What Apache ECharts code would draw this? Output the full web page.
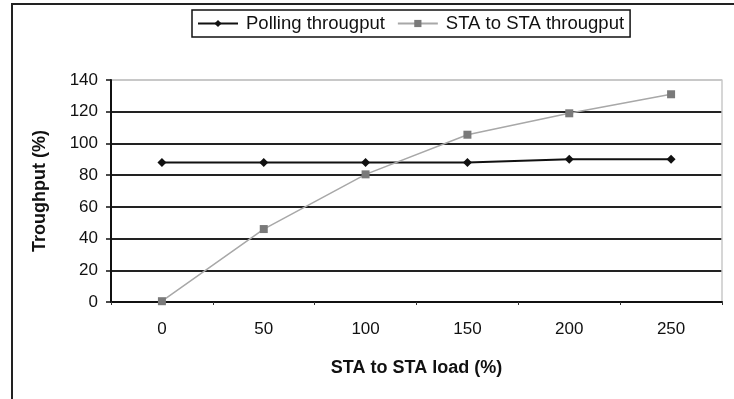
<!DOCTYPE html>
<html>
<head>
<meta charset="utf-8">
<script src="https://cdn.jsdelivr.net/npm/echarts@6/dist/echarts.min.js"></script>
<style>html,body{margin:0;padding:0;background:#fff;}#c{width:734px;height:399px;}</style>
</head>
<body>
<div id="c"></div>
<script>
var categories = ['0', '50', '100', '150', '200', '250'];
var pollingThroughput = [88, 88, 88, 88, 90, 90];
var staThroughput = [0.5, 46, 80.5, 105.5, 119, 131];
var yTicks = { min: 0, max: 140, interval: 20 };

var chart = echarts.init(document.getElementById('c'), null, { renderer: 'canvas' });
var font = 'Liberation Sans, Arial, sans-serif';
chart.setOption({
  animation: false,
  backgroundColor: '#fff',
  graphic: [{
    type: 'rect', z: 100, silent: true,
    shape: { x: 12, y: 4, width: 760, height: 440 },
    style: { fill: 'none', stroke: '#222', lineWidth: 2 }
  }],
  legend: {
    top: 10, left: 192,
    padding: [4, 6, 4, 5],
    borderColor: '#111', borderWidth: 1.5,
    itemWidth: 40, itemHeight: 9, itemGap: 12,
    textStyle: { fontFamily: font, fontSize: 18.5, color: '#111', padding: [0, 0, 0, 3] },
    data: ['Polling througput', 'STA to STA througput']
  },
  grid: { left: 111, right: 12, top: 80, bottom: 97 },
  xAxis: {
    type: 'category',
    data: categories,
    boundaryGap: true,
    name: 'STA to STA load (%)',
    nameLocation: 'middle',
    nameGap: 57,
    nameTextStyle: { fontFamily: font, fontSize: 18, fontWeight: 'bold', color: '#111' },
    axisLine: { lineStyle: { color: '#111', width: 2 } },
    axisTick: { show: true, length: 3, lineStyle: { color: '#333' } },
    axisLabel: { fontFamily: font, fontSize: 17, color: '#111', margin: 19 }
  },
  yAxis: [{
    type: 'value',
    min: yTicks.min, max: yTicks.max, interval: yTicks.interval,
    name: 'Troughput (%)',
    nameLocation: 'middle',
    nameGap: 62,
    nameTextStyle: { fontFamily: font, fontSize: 18, fontWeight: 'bold', color: '#111' },
    axisLine: { show: true, lineStyle: { color: '#111', width: 2 } },
    axisTick: { show: true, length: 5, lineStyle: { color: '#111', width: 1.5 } },
    axisLabel: { fontFamily: font, fontSize: 17, color: '#111', margin: 13 },
    splitLine: { show: true, lineStyle: { color: ['#222', '#222', '#222', '#222', '#222', '#222', '#222', '#c8c8c8'], width: 2 } }
  }, {
    type: 'value', position: 'right',
    min: yTicks.min, max: yTicks.max, interval: yTicks.interval,
    axisLine: { show: true, lineStyle: { color: '#c8c8c8', width: 1.5 } },
    axisTick: { show: false }, axisLabel: { show: false }, splitLine: { show: false }
  }],
  series: [{
    name: 'Polling througput',
    type: 'line',
    data: pollingThroughput,
    symbol: 'diamond', symbolSize: 9,
    itemStyle: { color: '#111' },
    lineStyle: { color: '#111', width: 2 },
    z: 3
  }, {
    name: 'STA to STA througput',
    type: 'line',
    data: staThroughput,
    symbol: 'rect', symbolSize: 8,
    itemStyle: { color: '#7a7a7a' },
    lineStyle: { color: '#a8a8a8', width: 1.5 },
    z: 4
  }]
});
</script>
</body>
</html>
